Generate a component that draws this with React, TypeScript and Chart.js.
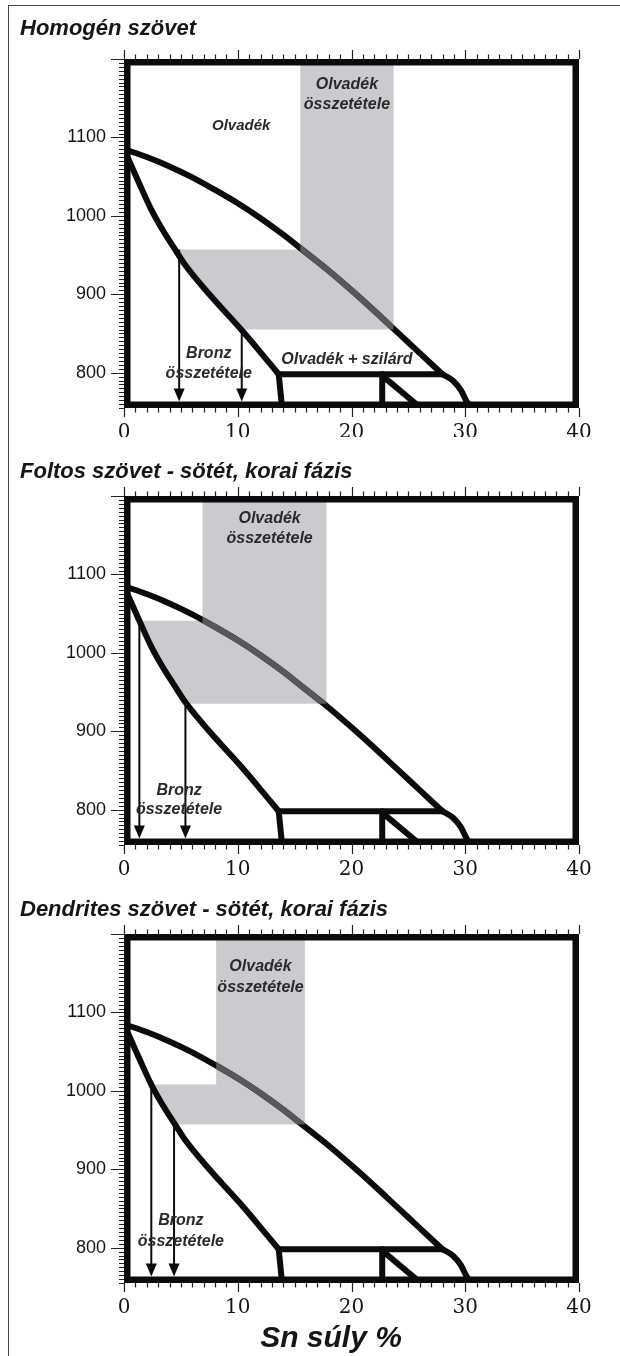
import React, { useEffect, useRef } from "react";
import { Chart, registerables } from "chart.js";

Chart.register(...registerables);

// Axis ranges: Sn content (wt%) and temperature (°C)
const SN_MIN = 0;
const SN_MAX = 40;
const T_MIN = 755;
const T_MAX = 1200;

// Cu–Sn phase boundaries (Sn wt%, °C)
const liquidusSn = [0, 2, 4, 6, 8, 10, 12, 14, 16, 18, 20, 22, 24, 26, 28];
const liquidusT = [1085, 1075, 1063, 1049, 1033, 1016, 997, 976, 953, 930, 905, 879, 852, 825, 798];
const solidusSn = [0, 1.35, 2.4, 3.4, 4.5, 5.4, 7.5, 10.3, 12, 13.6];
const solidusT = [1085, 1041, 1008, 982, 957, 937, 900, 855, 826, 798];
const peritecticSn = [13.6, 28];
const peritecticT = [798, 798];
const alphaEdgeSn = [13.6, 13.9];
const alphaEdgeT = [798, 755];
const betaEdgeSn = [22.7, 22.7];
const betaEdgeT = [798, 755];
const betaSlopeSn = [22.8, 26.1];
const betaSlopeT = [795, 755];
const betaRightSn = [28, 28.9, 29.6, 30.1, 30.5];
const betaRightT = [798, 790, 778, 764, 755];

// Axis tick labels
const xTickLabels = [0, 10, 20, 30, 40];
const yTickLabels = [800, 900, 1000, 1100];

// Per-panel values: melt composition column and tie lines to the bronze composition
const panelTitles = [
  "Homogén szövet",
  "Foltos szövet - sötét, korai fázis",
  "Dendrites szövet - sötét, korai fázis",
];
const meltLeftSn = [15.5, 6.9, 8.1];
const meltRightSn = [23.7, 17.8, 15.9];
const tieUpperT = [957, 1041, 1008];
const tieLowerT = [855, 935, 957];
const bronzeUpperSn = [4.85, 1.35, 2.4];
const bronzeLowerSn = [10.35, 5.4, 4.4];

// Text placement inside the plots (Sn wt%, °C)
const meltLabelAt = [
  [19.6, 1168, 1142],
  [12.8, 1171, 1146],
  [12.0, 1158, 1132],
];
const bronzeLabelAt = [
  [7.45, 824, 799],
  [4.84, 825, 800],
  [5.0, 834, 808],
];

// Page layout
const PAGE_W = 620;
const PAGE_H = 1356;
const PANEL_TOPS = [0, 437, 875];
const PANEL_HEIGHTS = [437, 438, 481];
const AREA = { left: 124, right: 579, top: 59, bottom: 408 };
const TITLE_BASELINES = [35, 41, 41];

const INK = "#0b0b0b";
const TEXT = "#2a2a2a";
const SHADE = "#cacbcf";
const SANS = '"Liberation Sans", Arial, sans-serif';
const SERIF = '"DejaVu Serif", serif';

type Pt = { x: number; y: number };
const toPoints = (xs: number[], ys: number[]): Pt[] => xs.map((x, i) => ({ x, y: ys[i] }));

// Shaded area: melt column plus the band between the solidus and the column
function meltRegion(i: number): Pt[] {
  const upper = tieUpperT[i];
  const lower = tieLowerT[i];
  const pts: Pt[] = [
    { x: bronzeUpperSn[i], y: upper },
    { x: meltLeftSn[i], y: upper },
    { x: meltLeftSn[i], y: T_MAX },
    { x: meltRightSn[i], y: T_MAX },
    { x: meltRightSn[i], y: lower },
    { x: bronzeLowerSn[i], y: lower },
  ];
  for (let k = solidusSn.length - 1; k >= 0; k--) {
    if (solidusT[k] > lower && solidusT[k] < upper) pts.push({ x: solidusSn[k], y: solidusT[k] });
  }
  return pts;
}

const phaseLine = (label: string, data: Pt[], smooth: boolean) => ({
  label,
  data,
  showLine: true,
  borderColor: INK,
  borderWidth: 6,
  pointRadius: 0,
  pointHoverRadius: 0,
  fill: false,
  cubicInterpolationMode: smooth ? "monotone" : "default",
  borderCapStyle: "round",
  borderJoinStyle: "round",
  clip: 0,
  order: 2,
});

const decorPlugin = (i: number) => ({
  id: "phaseDecor",
  beforeDatasetDraw(chart: any, args: any) {
    const ds = chart.data.datasets[args.index];
    if (ds.label !== "liquidus-shaded") return;
    const xs = chart.scales.x;
    const ys = chart.scales.y;
    const ctx = chart.ctx;
    const l = xs.getPixelForValue(meltLeftSn[i]);
    const r = xs.getPixelForValue(meltRightSn[i]);
    const t = ys.getPixelForValue(T_MAX);
    const b = ys.getPixelForValue(tieLowerT[i]);
    ctx.save();
    ctx.beginPath();
    ctx.rect(l, t, r - l, b - t);
    ctx.clip();
  },
  afterDatasetDraw(chart: any, args: any) {
    if (chart.data.datasets[args.index].label === "liquidus-shaded") chart.ctx.restore();
  },
  afterDatasetsDraw(chart: any) {
    const ctx: CanvasRenderingContext2D = chart.ctx;
    const xs = chart.scales.x;
    const ys = chart.scales.y;
    const { left, right, top, bottom } = chart.chartArea;
    const frame = 6.5;
    const px = (v: number) => xs.getPixelForValue(v);
    const py = (v: number) => ys.getPixelForValue(v);

    ctx.save();

    // arrows from the tie lines down to the composition axis
    const arrow = (sn: number, t: number) => {
      const x = px(sn);
      const tip = bottom - frame;
      ctx.strokeStyle = INK;
      ctx.fillStyle = INK;
      ctx.lineWidth = 2;
      ctx.beginPath();
      ctx.moveTo(x, py(t));
      ctx.lineTo(x, tip - 10);
      ctx.stroke();
      ctx.beginPath();
      ctx.moveTo(x - 5.5, tip - 13);
      ctx.lineTo(x + 5.5, tip - 13);
      ctx.lineTo(x, tip);
      ctx.closePath();
      ctx.fill();
    };
    arrow(bronzeUpperSn[i], tieUpperT[i]);
    arrow(bronzeLowerSn[i], tieLowerT[i]);

    // region labels
    ctx.fillStyle = TEXT;
    ctx.textAlign = "center";
    ctx.textBaseline = "middle";
    const put = (text: string, sn: number, t: number, size: number) => {
      ctx.font = `italic bold ${size}px ${SANS}`;
      ctx.fillText(text, px(sn), py(t));
    };
    const [mx, m1, m2] = meltLabelAt[i];
    put("Olvadék", mx, m1, 16);
    put("összetétele", mx, m2, 16);
    const [bx, b1, b2] = bronzeLabelAt[i];
    put("Bronz", bx, b1, 16);
    put("összetétele", bx, b2, 16);
    if (i === 0) {
      put("Olvadék", 10.3, 1115, 15);
      put("Olvadék + szilárd", 19.6, 817, 16);
    }

    // plot frame
    ctx.strokeStyle = INK;
    ctx.lineWidth = frame;
    ctx.strokeRect(left + frame / 2, top + frame / 2, right - left - frame, bottom - top - frame);

    // tick marks
    ctx.strokeStyle = "#222";
    ctx.lineWidth = 1.2;
    ctx.beginPath();
    for (let v = SN_MIN; v <= SN_MAX; v += 1) {
      const x = Math.round(px(v)) + 0.5;
      const len = v % 10 === 0 ? 9 : 4.5;
      ctx.moveTo(x, top);
      ctx.lineTo(x, top - len);
      ctx.moveTo(x, bottom);
      ctx.lineTo(x, bottom + len);
    }
    for (let v = T_MIN; v <= T_MAX; v += 5) {
      const y = Math.round(py(v)) + 0.5;
      const len = v % 100 === 0 ? 13 : 5;
      ctx.moveTo(left, y);
      ctx.lineTo(left - len, y);
    }
    ctx.stroke();

    // tick labels
    ctx.fillStyle = "#151515";
    ctx.font = `20px ${SERIF}`;
    ctx.textAlign = "center";
    ctx.textBaseline = "middle";
    xTickLabels.forEach((v) => ctx.fillText(String(v), px(v), bottom + 25));
    ctx.font = `18px ${SANS}`;
    ctx.textAlign = "right";
    yTickLabels.forEach((v) => ctx.fillText(String(v), left - 18, py(v)));

    // panel title
    ctx.fillStyle = "#161616";
    ctx.textAlign = "left";
    ctx.textBaseline = "alphabetic";
    ctx.font = `italic bold 22px ${SANS}`;
    ctx.fillText(panelTitles[i], 20, TITLE_BASELINES[i]);

    if (i === panelTitles.length - 1) {
      ctx.font = `italic bold 30px ${SANS}`;
      ctx.textAlign = "center";
      ctx.fillText("Sn súly %", 331, 472);
    }

    ctx.restore();
  },
});

function PhasePanel({ index }: { index: number }) {
  const ref = useRef<HTMLCanvasElement>(null);
  const height = PANEL_HEIGHTS[index];

  useEffect(() => {
    const canvas = ref.current;
    if (!canvas) return;
    const liquidus = toPoints(liquidusSn, liquidusT);
    const chart = new Chart(canvas, {
      type: "scatter",
      data: {
        datasets: [
          {
            label: "liquidus-shaded",
            data: liquidus,
            showLine: true,
            borderColor: "#57585c",
            borderWidth: 6,
            pointRadius: 0,
            pointHoverRadius: 0,
            fill: false,
            cubicInterpolationMode: "monotone",
            borderCapStyle: "round",
            clip: 0,
            order: 1,
          },
          phaseLine("liquidus", liquidus, true),
          phaseLine("solidus", toPoints(solidusSn, solidusT), true),
          phaseLine("peritectic", toPoints(peritecticSn, peritecticT), false),
          phaseLine("alpha-edge", toPoints(alphaEdgeSn, alphaEdgeT), false),
          phaseLine("beta-edge", toPoints(betaEdgeSn, betaEdgeT), false),
          phaseLine("beta-slope", toPoints(betaSlopeSn, betaSlopeT), false),
          phaseLine("beta-right", toPoints(betaRightSn, betaRightT), true),
          {
            label: "melt-region",
            data: meltRegion(index),
            showLine: true,
            fill: "shape",
            backgroundColor: SHADE,
            borderColor: "rgba(0,0,0,0)",
            borderWidth: 0,
            pointRadius: 0,
            pointHoverRadius: 0,
            order: 3,
          },
        ] as any,
      },
      options: {
        responsive: false,
        animation: false,
        devicePixelRatio: 1,
        events: [],
        layout: {
          padding: {
            left: AREA.left,
            right: PAGE_W - AREA.right,
            top: AREA.top,
            bottom: height - AREA.bottom,
          },
        },
        scales: {
          x: { type: "linear", min: SN_MIN, max: SN_MAX, display: false },
          y: { type: "linear", min: T_MIN, max: T_MAX, display: false },
        },
        plugins: {
          legend: { display: false },
          tooltip: { enabled: false },
          title: { display: false },
        },
      },
      plugins: [decorPlugin(index)],
    } as any);
    return () => chart.destroy();
  }, [index, height]);

  return (
    <canvas
      ref={ref}
      width={PAGE_W}
      height={height}
      style={{ position: "absolute", left: 0, top: PANEL_TOPS[index], width: PAGE_W, height }}
    />
  );
}

export default function App() {
  return (
    <div
      style={{
        position: "absolute",
        left: 0,
        top: 0,
        width: PAGE_W,
        height: PAGE_H,
        overflow: "hidden",
        background: "#ffffff",
      }}
    >
      <div
        style={{
          position: "absolute",
          left: 8,
          top: 5,
          width: 700,
          height: 1400,
          border: "1px solid #4a4a4a",
        }}
      />
      {panelTitles.map((_, i) => (
        <PhasePanel key={i} index={i} />
      ))}
    </div>
  );
}
